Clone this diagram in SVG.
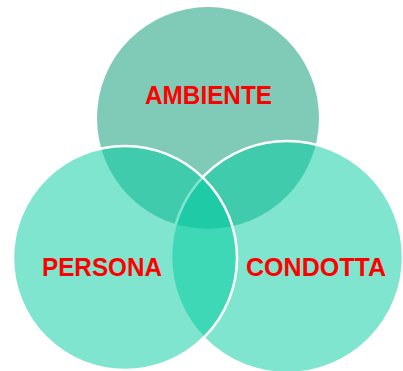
<svg xmlns="http://www.w3.org/2000/svg" width="403" height="371" viewBox="0 0 403 371">
  <style>
    .top { fill: #009771; fill-opacity: 0.5; stroke: none; }
    .side { fill: #00CC9F; fill-opacity: 0.5; stroke: #FFFFFF; stroke-width: 2.5; }
    .label { font-family: "Liberation Sans", Arial, sans-serif; font-weight: bold; font-size: 25px; fill: #FF0000; text-anchor: middle; }
  </style>
  <rect width="403" height="371" fill="#FFFFFF"/>
  <g id="ambiente">
    <circle class="top" cx="208" cy="118" r="111"/>
    <text class="label" x="208.5" y="104" textLength="127" lengthAdjust="spacingAndGlyphs">AMBIENTE</text>
  </g>
  <g id="condotta">
    <circle class="side" cx="287" cy="257" r="116"/>
    <text class="label" x="316" y="276" textLength="140" lengthAdjust="spacingAndGlyphs">CONDOTTA</text>
  </g>
  <g id="persona">
    <circle class="side" cx="125" cy="258" r="112"/>
    <text class="label" x="102" y="276" textLength="120" lengthAdjust="spacingAndGlyphs">PERSONA</text>
  </g>
  <g id="connectors"/>
</svg>
